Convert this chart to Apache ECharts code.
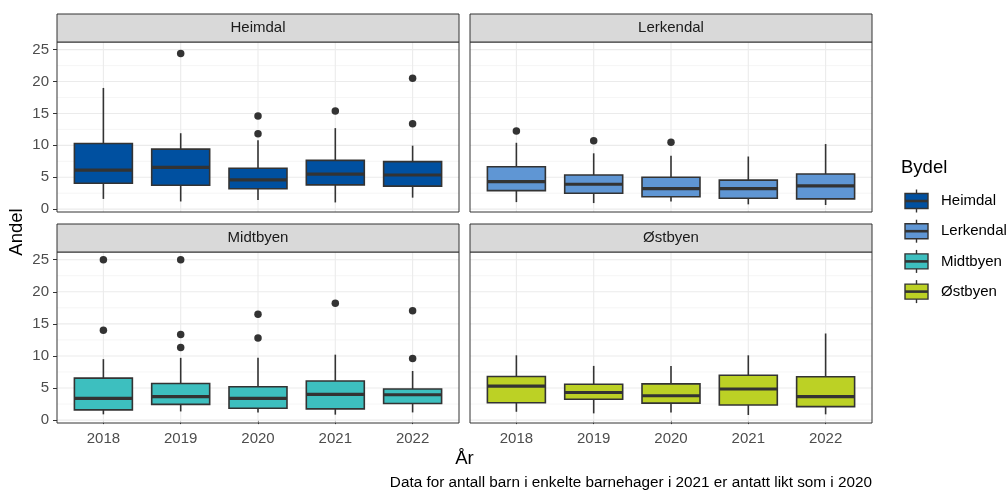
<!DOCTYPE html>
<html>
<head>
<meta charset="utf-8">
<script src="https://cdn.jsdelivr.net/npm/echarts@6/dist/echarts.min.js"></script>
<style>
html,body{margin:0;padding:0;background:#fff;}
#chart{width:1008px;height:491px;}
</style>
</head>
<body>
<div id="chart"></div>
<script>
// ---------- data ----------
const years = ['2018', '2019', '2020', '2021', '2022'];
const districts = ['Heimdal', 'Lerkendal', 'Midtbyen', 'Østbyen'];
const districtColors = ['#0050A0', '#5F96D4', '#3DBFBF', '#BCD125'];

// [low whisker, Q1, median, Q3, high whisker] per year
const heimdalStats = [
  [1.6, 4.05, 6.1, 10.3, 19.0],
  [1.2, 3.75, 6.55, 9.4, 11.9],
  [1.45, 3.2, 4.6, 6.4, 10.8],
  [1.05, 3.8, 5.5, 7.65, 12.7],
  [1.8, 3.6, 5.35, 7.45, 9.95]
];
const heimdalOutliers = [[2, 24.4], [3, 14.6], [3, 11.8], [4, 15.4], [5, 20.5], [5, 13.4]];

const lerkendalStats = [
  [1.1, 2.9, 4.3, 6.65, 10.4],
  [0.95, 2.5, 3.9, 5.35, 8.75],
  [1.2, 1.95, 3.2, 5.0, 8.35],
  [0.75, 1.7, 3.2, 4.55, 8.25],
  [0.65, 1.6, 3.65, 5.5, 10.2]
];
const lerkendalOutliers = [[1, 12.25], [2, 10.7], [3, 10.5]];

const midtbyenStats = [
  [0.9, 1.6, 3.4, 6.55, 9.5],
  [1.35, 2.45, 3.65, 5.7, 9.7],
  [1.2, 1.85, 3.4, 5.2, 9.7],
  [0.85, 1.75, 4.0, 6.1, 10.2],
  [1.2, 2.6, 3.95, 4.85, 7.65]
];
const midtbyenOutliers = [[1, 25], [1, 14], [2, 25], [2, 13.35], [2, 11.3], [3, 16.5], [3, 12.8], [4, 18.2], [5, 17.05], [5, 9.6]];

const ostbyenStats = [
  [1.3, 2.7, 5.3, 6.8, 10.1],
  [1.05, 3.25, 4.3, 5.6, 8.45],
  [1.2, 2.65, 3.8, 5.65, 8.45],
  [0.8, 2.35, 4.85, 7.0, 10.1],
  [0.9, 2.1, 3.65, 6.75, 13.5]
];
const ostbyenOutliers = [];

const yMajorTicks = [0, 5, 10, 15, 20, 25];
const yMinorTicks = [2.5, 7.5, 12.5, 17.5, 22.5];
const xTicks = [1, 2, 3, 4, 5];

const allStats = [heimdalStats, lerkendalStats, midtbyenStats, ostbyenStats];
const allOutliers = [heimdalOutliers, lerkendalOutliers, midtbyenOutliers, ostbyenOutliers];

// ---------- layout ----------
const FONT = '"Liberation Sans", Arial, sans-serif';
const SMALL = 15;
const BIG = 18.5;
const panels = [
  {left: 57, top: 42, width: 402, height: 170, showX: false, showY: true},
  {left: 470, top: 42, width: 402, height: 170, showX: false, showY: false},
  {left: 57, top: 252, width: 402, height: 171, showX: true, showY: true},
  {left: 470, top: 252, width: 402, height: 171, showX: true, showY: false}
];
const STRIP_H = 28;

const grids = [], xAxes = [], yAxes = [], series = [], graphics = [];

panels.forEach((p, i) => {
  grids.push({left: p.left, top: p.top, width: p.width, height: p.height, show: false, containLabel: false});
  xAxes.push({
    type: 'value', gridIndex: i, min: 0.4, max: 5.6,
    axisLine: {show: false},
    splitLine: {show: false},
    axisTick: {show: p.showX, customValues: xTicks, length: 4, lineStyle: {color: '#333333', width: 1}},
    axisLabel: {show: p.showX, customValues: xTicks, margin: 8, color: '#4D4D4D', fontSize: SMALL, fontFamily: FONT,
      formatter: v => years[Math.round(v) - 1] || ''}
  });
  yAxes.push({
    type: 'value', gridIndex: i, min: -0.45, max: 26.2,
    axisLine: {show: false},
    splitLine: {show: false},
    axisTick: {show: p.showY, customValues: yMajorTicks, length: 4, lineStyle: {color: '#333333', width: 1}},
    axisLabel: {show: p.showY, customValues: yMajorTicks, margin: 8, color: '#4D4D4D', fontSize: SMALL, fontFamily: FONT}
  });

  // grid lines
  const gridData = [];
  yMinorTicks.forEach(v => gridData.push([0, v]));
  yMajorTicks.forEach(v => gridData.push([1, v]));
  xTicks.forEach(v => gridData.push([2, v]));
  series.push({
    type: 'custom', xAxisIndex: i, yAxisIndex: i, z: 1, silent: true,
    data: gridData,
    renderItem: (params, api) => {
      const cs = params.coordSys;
      const kind = api.value(0), v = api.value(1);
      if (kind === 2) {
        const px = api.coord([v, 0])[0];
        return {type: 'line', shape: {x1: px, y1: cs.y, x2: px, y2: cs.y + cs.height},
          style: {stroke: '#EBEBEB', lineWidth: 1.1}};
      }
      const py = api.coord([1, v])[1];
      return {type: 'line', shape: {x1: cs.x, y1: py, x2: cs.x + cs.width, y2: py},
        style: {stroke: kind === 1 ? '#EBEBEB' : '#F1F1F1', lineWidth: kind === 1 ? 1.1 : 0.7}};
    }
  });

  // boxes
  const color = districtColors[i];
  series.push({
    type: 'custom', xAxisIndex: i, yAxisIndex: i, z: 2, silent: true,
    data: allStats[i].map((s, k) => [k + 1].concat(s)),
    renderItem: (params, api) => {
      const x = api.value(0);
      const lo = api.coord([x, api.value(1)]);
      const q1 = api.coord([x, api.value(2)]);
      const md = api.coord([x, api.value(3)]);
      const q3 = api.coord([x, api.value(4)]);
      const hi = api.coord([x, api.value(5)]);
      const w = api.size([0.75, 0])[0];
      const stroke = '#333333';
      return {type: 'group', children: [
        {type: 'line', shape: {x1: hi[0], y1: hi[1], x2: q3[0], y2: q3[1]}, style: {stroke, lineWidth: 1.6}},
        {type: 'line', shape: {x1: q1[0], y1: q1[1], x2: lo[0], y2: lo[1]}, style: {stroke, lineWidth: 1.6}},
        {type: 'rect', shape: {x: q3[0] - w / 2, y: q3[1], width: w, height: q1[1] - q3[1]},
          style: {fill: color, stroke, lineWidth: 1.6}},
        {type: 'line', shape: {x1: md[0] - w / 2, y1: md[1], x2: md[0] + w / 2, y2: md[1]},
          style: {stroke, lineWidth: 3.2}}
      ]};
    }
  });

  // outliers
  series.push({
    type: 'scatter', xAxisIndex: i, yAxisIndex: i, z: 3, silent: true,
    symbol: 'circle', symbolSize: 7.5,
    itemStyle: {color: '#333333', opacity: 1},
    data: allOutliers[i]
  });

  // panel border
  graphics.push({type: 'rect', z: 100, silent: true,
    shape: {x: p.left, y: p.top, width: p.width, height: p.height},
    style: {fill: 'none', stroke: '#333333', lineWidth: 1}});
  // strip
  graphics.push({type: 'rect', z: 100, silent: true,
    shape: {x: p.left, y: p.top - STRIP_H, width: p.width, height: STRIP_H},
    style: {fill: '#D9D9D9', stroke: '#333333', lineWidth: 1}});
  graphics.push({type: 'text', z: 101, silent: true,
    x: p.left + p.width / 2, y: p.top - STRIP_H / 2,
    style: {text: districts[i], x: 0, y: 0, fill: '#1A1A1A', font: SMALL + 'px ' + FONT,
      textAlign: 'center', textVerticalAlign: 'middle', align: 'center', verticalAlign: 'middle'}});
});

// axis titles & caption
graphics.push({type: 'text', silent: true, x: 17, y: 232, rotation: Math.PI / 2,
  style: {text: 'Andel', x: 0, y: 0, fill: '#000', font: BIG + 'px ' + FONT,
    textAlign: 'center', textVerticalAlign: 'middle', align: 'center', verticalAlign: 'middle'}});
graphics.push({type: 'text', silent: true, x: 464.5, y: 459,
  style: {text: 'År', x: 0, y: 0, fill: '#000', font: BIG + 'px ' + FONT,
    textAlign: 'center', textVerticalAlign: 'middle', align: 'center', verticalAlign: 'middle'}});
graphics.push({type: 'text', silent: true, x: 872, y: 483,
  style: {text: 'Data for antall barn i enkelte barnehager i 2021 er antatt likt som i 2020', x: 0, y: 0,
    fill: '#000', font: '15.3px ' + FONT,
    textAlign: 'right', textVerticalAlign: 'middle', align: 'right', verticalAlign: 'middle'}});

// legend
graphics.push({type: 'text', silent: true, x: 901, y: 168,
  style: {text: 'Bydel', x: 0, y: 0, fill: '#000', font: BIG + 'px ' + FONT,
    textAlign: 'left', textVerticalAlign: 'middle', align: 'left', verticalAlign: 'middle'}});
districts.forEach((d, k) => {
  const cy = 201 + k * 30.2;
  const cx = 916.5;
  graphics.push({type: 'line', silent: true, shape: {x1: cx, y1: cy - 11.5, x2: cx, y2: cy + 11.5},
    style: {stroke: '#333333', lineWidth: 1.4}});
  graphics.push({type: 'rect', silent: true, shape: {x: cx - 11.5, y: cy - 7.5, width: 23, height: 15},
    style: {fill: districtColors[k], stroke: '#333333', lineWidth: 1.4}});
  graphics.push({type: 'line', silent: true, shape: {x1: cx - 11.5, y1: cy, x2: cx + 11.5, y2: cy},
    style: {stroke: '#333333', lineWidth: 2.6}});
  graphics.push({type: 'text', silent: true, x: 941, y: cy,
    style: {text: d, x: 0, y: 0, fill: '#000', font: SMALL + 'px ' + FONT,
      textAlign: 'left', textVerticalAlign: 'middle', align: 'left', verticalAlign: 'middle'}});
});

const chart = echarts.init(document.getElementById('chart'), null, {renderer: 'canvas'});
chart.setOption({
  animation: false,
  backgroundColor: '#FFFFFF',
  grid: grids,
  xAxis: xAxes,
  yAxis: yAxes,
  series: series,
  graphic: graphics
});
</script>
</body>
</html>
